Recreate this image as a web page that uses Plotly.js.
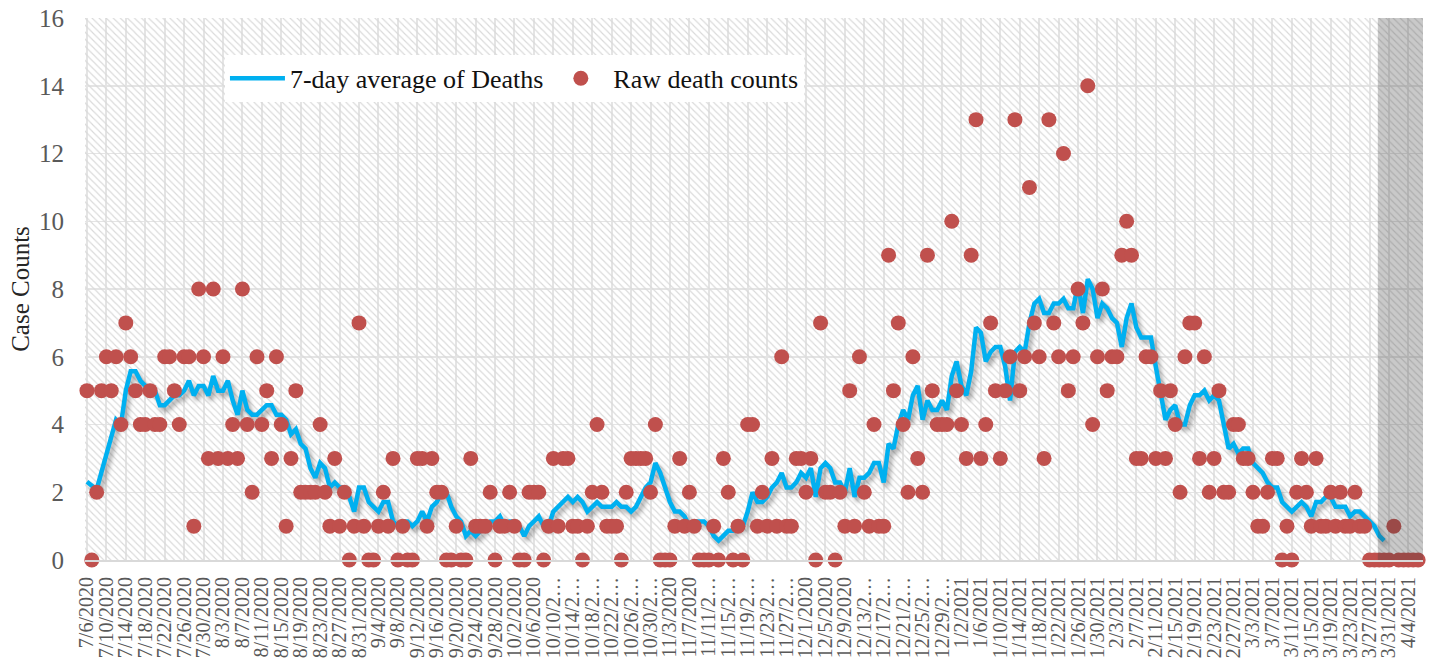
<!DOCTYPE html>
<html><head><meta charset="utf-8">
<script src="https://cdn.plot.ly/plotly-3.0.1.min.js"></script>
<style>html,body{margin:0;padding:0;background:#fff;} #chart{width:1435px;height:659px;}</style>
</head><body><div id="chart"></div>
<script>
const rawDeaths = [
5,0,2,5,6,5,6,4,7,6,
5,4,4,5,4,4,6,6,5,4,
6,6,1,8,6,3,8,3,6,3,
4,3,8,4,2,6,4,5,3,6,
4,1,3,5,2,2,2,2,4,2,
1,3,1,2,0,1,7,1,0,0,
1,2,1,3,0,1,0,0,3,3,
1,3,2,2,0,0,1,0,0,3,
1,1,1,2,0,1,1,2,1,0,
0,2,2,2,0,1,3,1,3,3,
1,1,0,1,2,4,2,1,1,1,
0,2,3,3,3,3,2,4,0,0,
0,1,3,1,2,1,0,0,0,1,
0,3,2,0,1,0,4,4,1,2,
1,3,1,6,1,1,3,3,2,3,
0,7,2,2,0,2,1,5,1,6,
2,1,4,1,1,9,5,7,4,2,
6,3,2,9,5,4,4,4,10,5,
4,3,9,13,3,4,7,5,3,5,
6,13,5,6,11,7,6,3,13,7,
6,12,5,6,8,7,14,4,6,8,
5,6,6,9,10,9,3,3,6,6,
3,5,3,5,4,2,6,7,7,3,
6,2,3,5,2,2,4,4,3,3,
2,1,1,2,3,3,0,1,0,2,
3,2,1,3,1,1,2,1,2,1,
1,2,1,1,0,0,0,0,0,1,
0,0,0,0,0
];

const avgDeaths = [
2.31,2.19,2.08,2.6,3.1,3.6,
4.14,4.00,5.00,5.57,5.57,5.29,5.14,5.00,5.00,4.57,
4.57,4.71,4.86,4.86,5.00,5.29,4.86,5.14,5.14,4.86,
5.43,5.00,5.00,5.29,4.71,4.29,5.00,4.43,4.29,4.29,
4.43,4.57,4.57,4.29,4.29,4.14,3.71,3.86,3.43,3.29,
2.71,2.43,2.86,2.71,2.14,2.29,2.14,2.14,1.86,1.43,
2.14,2.14,1.71,1.57,1.43,1.71,1.71,1.14,1.00,1.14,
1.14,1.00,1.14,1.43,1.14,1.57,1.71,2.00,2.00,1.57,
1.29,1.14,0.71,0.86,0.71,0.86,1.00,1.14,1.14,1.29,
1.00,1.14,1.14,1.00,0.71,1.00,1.14,1.29,1.00,1.00,
1.43,1.57,1.71,1.86,1.71,1.86,1.71,1.43,1.57,1.71,
1.57,1.57,1.57,1.71,1.57,1.57,1.43,1.57,1.86,2.14,
2.29,2.86,2.57,2.14,1.71,1.43,1.43,1.29,1.00,1.14,
1.14,1.14,1.00,0.71,0.57,0.71,0.86,0.86,1.00,1.00,
1.43,2.00,1.71,1.71,1.86,2.14,2.29,2.57,2.14,2.14,
2.29,2.57,2.43,2.71,1.86,2.71,2.86,2.71,2.29,2.29,
2.00,2.71,1.86,2.43,2.43,2.57,2.86,2.86,2.29,3.43,
3.29,4.00,4.43,4.14,4.86,5.14,4.14,4.71,4.43,4.43,
4.71,4.43,5.43,5.86,5.14,4.86,5.57,6.86,6.71,5.86,
6.14,6.29,6.29,5.71,4.71,6.14,6.29,6.14,7.00,7.57,
7.71,7.29,7.29,7.57,7.57,7.71,7.43,7.43,8.14,7.29,
8.29,8.00,7.14,7.57,7.43,7.14,7.00,6.29,7.14,7.57,
6.86,6.57,6.57,6.57,5.71,5.00,4.14,4.43,4.57,4.00,
4.00,4.57,4.86,4.86,5.00,4.71,4.86,4.71,4.00,3.29,
3.43,3.14,3.29,3.29,2.86,2.71,2.57,2.29,2.14,2.14,
1.71,1.57,1.43,1.57,1.71,1.57,1.29,1.71,1.71,1.86,
1.86,1.57,1.57,1.57,1.29,1.43,1.43,1.29,1.14,1.00,
0.71,0.57
];

const tickLabels = [
"7/6/2020","7/10/2020","7/14/2020","7/18/2020","7/22/2020","7/26/2020","7/30/2020",
"8/3/2020","8/7/2020","8/11/2020","8/15/2020","8/19/2020","8/23/2020","8/27/2020","8/31/2020",
"9/4/2020","9/8/2020","9/12/2020","9/16/2020","9/20/2020","9/24/2020","9/28/2020",
"10/2/2020","10/6/2020","10/10/2…","10/14/2…","10/18/2…","10/22/2…","10/26/2…","10/30/2…",
"11/3/2020","11/7/2020","11/11/2…","11/15/2…","11/19/2…","11/23/2…","11/27/2…",
"12/1/2020","12/5/2020","12/9/2020","12/13/2…","12/17/2…","12/21/2…","12/25/2…","12/29/2…",
"1/2/2021","1/6/2021","1/10/2021","1/14/2021","1/18/2021","1/22/2021","1/26/2021","1/30/2021",
"2/3/2021","2/7/2021","2/11/2021","2/15/2021","2/19/2021","2/23/2021","2/27/2021",
"3/3/2021","3/7/2021","3/11/2021","3/15/2021","3/19/2021","3/23/2021","3/27/2021","3/31/2021",
"4/4/2021"
];

// daily categories starting 7/6/2020
const dates = [];
for (let i = 0; i < rawDeaths.length; i++) {
  const d = new Date(Date.UTC(2020, 6, 6 + i));
  dates.push((d.getUTCMonth() + 1) + '/' + d.getUTCDate() + '/' + d.getUTCFullYear());
}
const avgDates = dates.slice(0, avgDeaths.length);
const tickVals = tickLabels.map((_, k) => dates[4 * k]);
const nCat = dates.length;

const FONT = '"Liberation Serif", "Times New Roman", serif';

const traces = [
  { // line shadow
    type: 'scatter', mode: 'lines', x: avgDates, y: avgDeaths,
    line: { color: 'rgba(0,0,0,0.3)', width: 5 }, hoverinfo: 'skip', showlegend: false
  },
  {
    type: 'scatter', mode: 'lines', name: '7-day average of Deaths', x: avgDates, y: avgDeaths,
    line: { color: '#00b0f0', width: 4.5 }
  },
  {
    type: 'scatter', mode: 'markers', name: 'Raw death counts', x: dates, y: rawDeaths,
    marker: { color: '#c0504d', size: 15 }, cliponaxis: false
  },
  { // hatched plot background
    type: 'bar', x: [dates[Math.floor(nCat / 2)]], y: [16], base: [0], width: [nCat + 3],
    marker: { color: 'rgba(0,0,0,0)', line: { width: 0 },
      pattern: { shape: '\\', fgcolor: '#d9d9d9', bgcolor: 'rgba(0,0,0,0)', size: 5, solidity: 0.22 } },
    hoverinfo: 'skip', showlegend: false
  }
];

const layout = {
  width: 1435, height: 659,
  margin: { l: 85, r: 12, t: 18, b: 99 },
  paper_bgcolor: '#ffffff', plot_bgcolor: '#ffffff',
  font: { family: FONT, color: '#595959' },
  bargap: 0,
  showlegend: true,
  legend: {
    x: 0.1046, y: 0.932, xanchor: 'left', yanchor: 'top', orientation: 'h',
    bgcolor: '#ffffff', borderwidth: 0, itemwidth: 55, traceorder: 'normal',
    font: { family: FONT, size: 26, color: '#111111' }
  },
  xaxis: {
    type: 'category', categoryorder: 'array', categoryarray: dates,
    range: [-0.4, nCat], tickmode: 'array', tickvals: tickVals, ticktext: tickLabels,
    tickangle: -90, tickfont: { family: FONT, size: 20, color: '#595959' },
    showgrid: true, gridcolor: '#e4e4e4', gridwidth: 2,
    showline: true, linecolor: '#d9d9d9', linewidth: 2,
    ticks: '', ticklabelstandoff: 7, zeroline: false, automargin: false, fixedrange: true
  },
  yaxis: {
    range: [0, 16], tick0: 0, dtick: 2,
    tickfont: { family: FONT, size: 25, color: '#595959' },
    showgrid: true, gridcolor: '#e4e4e4', gridwidth: 1.5, zeroline: false,
    ticks: '', ticklabelstandoff: 20, automargin: false, fixedrange: true,
    title: { text: 'Case Counts', font: { family: FONT, size: 25, color: '#262626' }, standoff: 2 }
  },
  shapes: [
    { type: 'rect', xref: 'x', yref: 'y', x0: 265.7, x1: nCat, y0: 0, y1: 16,
      fillcolor: 'rgba(60,60,60,0.28)', line: { width: 0 }, layer: 'above' }
  ]
};

Plotly.newPlot('chart', traces, layout, { staticPlot: true, displayModeBar: false }).then(gd => {
  const ns = 'http://www.w3.org/2000/svg';
  const svg = gd.querySelector('svg.main-svg');
  let defs = svg.querySelector('defs');
  if (!defs) { defs = document.createElementNS(ns, 'defs'); svg.insertBefore(defs, svg.firstChild); }
  const f = document.createElementNS(ns, 'filter');
  f.setAttribute('id', 'lineShadow');
  f.setAttribute('x', '-5%'); f.setAttribute('y', '-10%');
  f.setAttribute('width', '110%'); f.setAttribute('height', '120%');
  const b = document.createElementNS(ns, 'feGaussianBlur');
  b.setAttribute('stdDeviation', '2');
  f.appendChild(b); defs.appendChild(f);
  const tr = gd.querySelectorAll('.scatterlayer .trace');
  if (tr.length) {
    const p = tr[0].querySelector('path.js-line');
    if (p) { p.setAttribute('transform', 'translate(3,4)'); p.setAttribute('filter', 'url(#lineShadow)'); }
  }
});
</script>
</body></html>
